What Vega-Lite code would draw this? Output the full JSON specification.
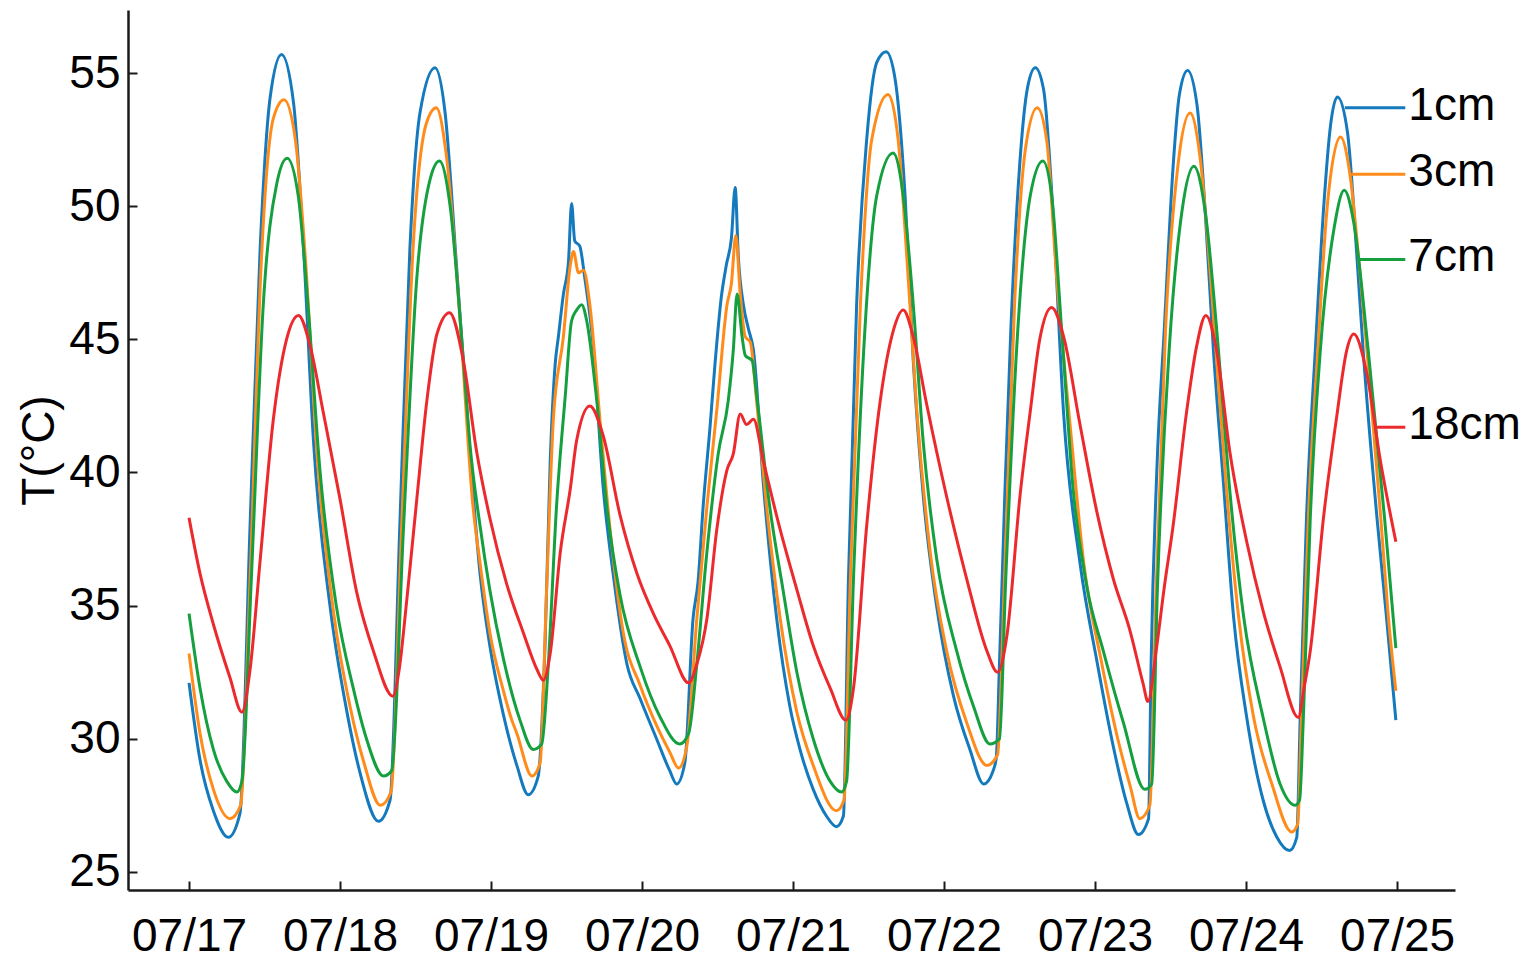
{
  "$schema": "https://vega.github.io/schema/vega-lite/v6.json",
  "width": 1327,
  "height": 880,
  "autosize": {"type": "none"},
  "padding": {"left": 128, "top": 10, "right": 73, "bottom": 74},
  "background": "white",
  "datasets": {
    "temps": [
      {"t":"2013-07-17T00:00","d":"1cm","T":32.1},{"t":"2013-07-17T01:45","d":"1cm","T":29.2},{"t":"2013-07-17T03:52","d":"1cm","T":27.3},{"t":"2013-07-17T06:15","d":"1cm","T":26.3},{"t":"2013-07-17T08:06","d":"1cm","T":27.2},{"t":"2013-07-17T09:42","d":"1cm","T":38.0},{"t":"2013-07-17T11:18","d":"1cm","T":48.4},{"t":"2013-07-17T12:54","d":"1cm","T":54.1},{"t":"2013-07-17T14:42","d":"1cm","T":55.7},{"t":"2013-07-17T16:36","d":"1cm","T":53.9},{"t":"2013-07-17T18:12","d":"1cm","T":48.4},{"t":"2013-07-17T19:48","d":"1cm","T":41.1},{"t":"2013-07-17T22:24","d":"1cm","T":35.0},
      {"t":"2013-07-18T01:06","d":"1cm","T":31.0},{"t":"2013-07-18T03:12","d":"1cm","T":28.7},{"t":"2013-07-18T06:06","d":"1cm","T":26.9},{"t":"2013-07-18T07:57","d":"1cm","T":27.7},{"t":"2013-07-18T09:30","d":"1cm","T":38.0},{"t":"2013-07-18T11:06","d":"1cm","T":48.4},{"t":"2013-07-18T12:42","d":"1cm","T":53.5},{"t":"2013-07-18T15:06","d":"1cm","T":55.2},{"t":"2013-07-18T16:42","d":"1cm","T":53.5},{"t":"2013-07-18T18:30","d":"1cm","T":47.8},{"t":"2013-07-18T20:42","d":"1cm","T":40.6},{"t":"2013-07-18T22:15","d":"1cm","T":36.2},{"t":"2013-07-18T23:48","d":"1cm","T":33.5},
      {"t":"2013-07-19T01:58","d":"1cm","T":30.9},{"t":"2013-07-19T04:06","d":"1cm","T":29.0},{"t":"2013-07-19T05:54","d":"1cm","T":27.9},{"t":"2013-07-19T07:30","d":"1cm","T":28.6},{"t":"2013-07-19T08:36","d":"1cm","T":33.7},{"t":"2013-07-19T09:24","d":"1cm","T":40.4},{"t":"2013-07-19T10:12","d":"1cm","T":44.1},{"t":"2013-07-19T10:42","d":"1cm","T":45.1},{"t":"2013-07-19T11:30","d":"1cm","T":46.7},{"t":"2013-07-19T12:18","d":"1cm","T":47.9},{"t":"2013-07-19T12:48","d":"1cm","T":50.1},{"t":"2013-07-19T13:18","d":"1cm","T":48.7},{"t":"2013-07-19T14:06","d":"1cm","T":48.5},{"t":"2013-07-19T14:54","d":"1cm","T":47.3},{"t":"2013-07-19T16:18","d":"1cm","T":44.6},{"t":"2013-07-19T17:48","d":"1cm","T":39.5},{"t":"2013-07-19T19:24","d":"1cm","T":36.2},{"t":"2013-07-19T21:36","d":"1cm","T":32.8},{"t":"2013-07-19T23:42","d":"1cm","T":31.5},
      {"t":"2013-07-20T02:18","d":"1cm","T":30.0},{"t":"2013-07-20T04:24","d":"1cm","T":28.8},{"t":"2013-07-20T05:30","d":"1cm","T":28.3},{"t":"2013-07-20T06:48","d":"1cm","T":29.1},{"t":"2013-07-20T08:06","d":"1cm","T":34.5},{"t":"2013-07-20T08:54","d":"1cm","T":35.9},{"t":"2013-07-20T09:42","d":"1cm","T":38.7},{"t":"2013-07-20T10:48","d":"1cm","T":41.7},{"t":"2013-07-20T11:36","d":"1cm","T":44.1},{"t":"2013-07-20T12:36","d":"1cm","T":46.6},{"t":"2013-07-20T13:24","d":"1cm","T":47.8},{"t":"2013-07-20T14:12","d":"1cm","T":48.8},{"t":"2013-07-20T14:48","d":"1cm","T":50.7},{"t":"2013-07-20T15:18","d":"1cm","T":48.1},{"t":"2013-07-20T16:06","d":"1cm","T":46.3},{"t":"2013-07-20T16:54","d":"1cm","T":45.4},{"t":"2013-07-20T17:42","d":"1cm","T":44.6},{"t":"2013-07-20T19:18","d":"1cm","T":39.5},{"t":"2013-07-20T21:24","d":"1cm","T":34.5},{"t":"2013-07-20T23:30","d":"1cm","T":31.2},
      {"t":"2013-07-21T01:06","d":"1cm","T":29.6},{"t":"2013-07-21T03:12","d":"1cm","T":28.1},{"t":"2013-07-21T05:18","d":"1cm","T":27.1},{"t":"2013-07-21T06:54","d":"1cm","T":26.7},{"t":"2013-07-21T08:00","d":"1cm","T":27.1},{"t":"2013-07-21T08:48","d":"1cm","T":36.0},{"t":"2013-07-21T10:06","d":"1cm","T":46.3},{"t":"2013-07-21T11:42","d":"1cm","T":52.5},{"t":"2013-07-21T13:18","d":"1cm","T":55.4},{"t":"2013-07-21T14:48","d":"1cm","T":55.8},{"t":"2013-07-21T16:12","d":"1cm","T":54.8},{"t":"2013-07-21T17:48","d":"1cm","T":50.4},{"t":"2013-07-21T19:06","d":"1cm","T":44.2},{"t":"2013-07-21T20:42","d":"1cm","T":39.1},{"t":"2013-07-21T22:48","d":"1cm","T":35.0},
      {"t":"2013-07-22T01:30","d":"1cm","T":31.6},{"t":"2013-07-22T04:06","d":"1cm","T":29.6},{"t":"2013-07-22T06:18","d":"1cm","T":28.3},{"t":"2013-07-22T07:48","d":"1cm","T":28.8},{"t":"2013-07-22T08:18","d":"1cm","T":29.3},{"t":"2013-07-22T08:48","d":"1cm","T":32.8},{"t":"2013-07-22T09:42","d":"1cm","T":39.5},{"t":"2013-07-22T10:36","d":"1cm","T":45.3},{"t":"2013-07-22T12:00","d":"1cm","T":51.5},{"t":"2013-07-22T13:18","d":"1cm","T":54.5},{"t":"2013-07-22T14:30","d":"1cm","T":55.2},{"t":"2013-07-22T15:48","d":"1cm","T":54.4},{"t":"2013-07-22T17:24","d":"1cm","T":49.4},{"t":"2013-07-22T19:00","d":"1cm","T":42.2},{"t":"2013-07-22T21:36","d":"1cm","T":36.6},
      {"t":"2013-07-23T00:18","d":"1cm","T":32.9},{"t":"2013-07-23T02:54","d":"1cm","T":29.7},{"t":"2013-07-23T05:00","d":"1cm","T":27.6},{"t":"2013-07-23T06:54","d":"1cm","T":26.4},{"t":"2013-07-23T08:30","d":"1cm","T":27.0},{"t":"2013-07-23T08:54","d":"1cm","T":32.8},{"t":"2013-07-23T09:48","d":"1cm","T":40.0},{"t":"2013-07-23T11:00","d":"1cm","T":45.4},{"t":"2013-07-23T12:24","d":"1cm","T":51.5},{"t":"2013-07-23T13:24","d":"1cm","T":54.2},{"t":"2013-07-23T14:42","d":"1cm","T":55.1},{"t":"2013-07-23T16:12","d":"1cm","T":53.8},{"t":"2013-07-23T17:30","d":"1cm","T":49.8},{"t":"2013-07-23T18:48","d":"1cm","T":44.6},{"t":"2013-07-23T20:24","d":"1cm","T":39.6},{"t":"2013-07-23T22:00","d":"1cm","T":34.6},
      {"t":"2013-07-24T00:06","d":"1cm","T":30.8},{"t":"2013-07-24T02:42","d":"1cm","T":27.7},{"t":"2013-07-24T04:54","d":"1cm","T":26.3},{"t":"2013-07-24T06:54","d":"1cm","T":25.8},{"t":"2013-07-24T08:03","d":"1cm","T":26.3},{"t":"2013-07-24T08:36","d":"1cm","T":30.8},{"t":"2013-07-24T09:36","d":"1cm","T":38.3},{"t":"2013-07-24T11:00","d":"1cm","T":44.6},{"t":"2013-07-24T12:24","d":"1cm","T":50.2},{"t":"2013-07-24T13:24","d":"1cm","T":53.0},{"t":"2013-07-24T14:30","d":"1cm","T":54.1},{"t":"2013-07-24T16:06","d":"1cm","T":52.8},{"t":"2013-07-24T17:42","d":"1cm","T":47.8},{"t":"2013-07-24T18:36","d":"1cm","T":44.6},{"t":"2013-07-24T20:48","d":"1cm","T":38.3},{"t":"2013-07-24T22:18","d":"1cm","T":34.6},{"t":"2013-07-24T23:48","d":"1cm","T":30.7},

      {"t":"2013-07-17T00:00","d":"3cm","T":33.2},{"t":"2013-07-17T01:45","d":"3cm","T":30.2},{"t":"2013-07-17T03:52","d":"3cm","T":28.1},{"t":"2013-07-17T06:30","d":"3cm","T":27.0},{"t":"2013-07-17T08:12","d":"3cm","T":27.5},{"t":"2013-07-17T09:42","d":"3cm","T":36.0},{"t":"2013-07-17T11:30","d":"3cm","T":48.0},{"t":"2013-07-17T13:24","d":"3cm","T":53.3},{"t":"2013-07-17T15:06","d":"3cm","T":54.0},{"t":"2013-07-17T16:54","d":"3cm","T":52.5},{"t":"2013-07-17T18:30","d":"3cm","T":48.0},{"t":"2013-07-17T20:24","d":"3cm","T":40.5},{"t":"2013-07-17T23:00","d":"3cm","T":34.7},
      {"t":"2013-07-18T01:36","d":"3cm","T":31.2},{"t":"2013-07-18T03:48","d":"3cm","T":29.1},{"t":"2013-07-18T06:24","d":"3cm","T":27.5},{"t":"2013-07-18T08:06","d":"3cm","T":28.0},{"t":"2013-07-18T09:48","d":"3cm","T":38.0},{"t":"2013-07-18T11:36","d":"3cm","T":48.4},{"t":"2013-07-18T13:42","d":"3cm","T":53.1},{"t":"2013-07-18T15:18","d":"3cm","T":53.7},{"t":"2013-07-18T16:54","d":"3cm","T":51.9},{"t":"2013-07-18T19:00","d":"3cm","T":46.0},{"t":"2013-07-18T21:06","d":"3cm","T":38.8},{"t":"2013-07-18T22:15","d":"3cm","T":36.6},{"t":"2013-07-18T23:48","d":"3cm","T":34.0},
      {"t":"2013-07-19T01:58","d":"3cm","T":31.8},{"t":"2013-07-19T03:18","d":"3cm","T":30.7},{"t":"2013-07-19T04:06","d":"3cm","T":30.2},{"t":"2013-07-19T06:30","d":"3cm","T":28.6},{"t":"2013-07-19T07:48","d":"3cm","T":29.1},{"t":"2013-07-19T08:48","d":"3cm","T":35.4},{"t":"2013-07-19T09:54","d":"3cm","T":42.0},{"t":"2013-07-19T11:30","d":"3cm","T":45.1},{"t":"2013-07-19T12:36","d":"3cm","T":47.8},{"t":"2013-07-19T13:06","d":"3cm","T":48.3},{"t":"2013-07-19T13:54","d":"3cm","T":47.5},{"t":"2013-07-19T14:42","d":"3cm","T":47.6},{"t":"2013-07-19T15:42","d":"3cm","T":46.3},{"t":"2013-07-19T17:18","d":"3cm","T":42.0},{"t":"2013-07-19T18:54","d":"3cm","T":37.9},{"t":"2013-07-19T21:00","d":"3cm","T":34.0},{"t":"2013-07-19T23:42","d":"3cm","T":32.0},
      {"t":"2013-07-20T02:18","d":"3cm","T":30.5},{"t":"2013-07-20T04:24","d":"3cm","T":29.5},{"t":"2013-07-20T05:48","d":"3cm","T":28.9},{"t":"2013-07-20T07:06","d":"3cm","T":29.7},{"t":"2013-07-20T08:42","d":"3cm","T":34.5},{"t":"2013-07-20T10:18","d":"3cm","T":38.7},{"t":"2013-07-20T11:54","d":"3cm","T":42.4},{"t":"2013-07-20T13:30","d":"3cm","T":46.3},{"t":"2013-07-20T14:12","d":"3cm","T":47.1},{"t":"2013-07-20T14:54","d":"3cm","T":48.9},{"t":"2013-07-20T15:36","d":"3cm","T":46.7},{"t":"2013-07-20T16:24","d":"3cm","T":45.1},{"t":"2013-07-20T17:12","d":"3cm","T":44.9},{"t":"2013-07-20T18:12","d":"3cm","T":42.7},{"t":"2013-07-20T19:48","d":"3cm","T":38.7},{"t":"2013-07-20T21:54","d":"3cm","T":34.6},
      {"t":"2013-07-21T00:36","d":"3cm","T":31.0},{"t":"2013-07-21T03:12","d":"3cm","T":29.0},{"t":"2013-07-21T06:54","d":"3cm","T":27.3},{"t":"2013-07-21T08:06","d":"3cm","T":27.7},{"t":"2013-07-21T09:06","d":"3cm","T":36.0},{"t":"2013-07-21T10:42","d":"3cm","T":46.3},{"t":"2013-07-21T12:30","d":"3cm","T":52.5},{"t":"2013-07-21T15:06","d":"3cm","T":54.2},{"t":"2013-07-21T16:42","d":"3cm","T":52.5},{"t":"2013-07-21T18:18","d":"3cm","T":47.3},{"t":"2013-07-21T19:42","d":"3cm","T":42.2},{"t":"2013-07-21T21:48","d":"3cm","T":37.0},
      {"t":"2013-07-22T00:24","d":"3cm","T":33.3},{"t":"2013-07-22T03:36","d":"3cm","T":30.6},{"t":"2013-07-22T06:48","d":"3cm","T":29.0},{"t":"2013-07-22T08:30","d":"3cm","T":29.4},{"t":"2013-07-22T09:36","d":"3cm","T":36.0},{"t":"2013-07-22T11:12","d":"3cm","T":46.3},{"t":"2013-07-22T12:54","d":"3cm","T":52.1},{"t":"2013-07-22T14:48","d":"3cm","T":53.7},{"t":"2013-07-22T16:18","d":"3cm","T":52.5},{"t":"2013-07-22T17:54","d":"3cm","T":47.3},{"t":"2013-07-22T20:06","d":"3cm","T":41.6},{"t":"2013-07-22T22:12","d":"3cm","T":36.6},
      {"t":"2013-07-23T01:00","d":"3cm","T":32.9},{"t":"2013-07-23T03:36","d":"3cm","T":30.0},{"t":"2013-07-23T05:36","d":"3cm","T":28.2},{"t":"2013-07-23T07:06","d":"3cm","T":27.0},{"t":"2013-07-23T08:42","d":"3cm","T":27.5},{"t":"2013-07-23T09:42","d":"3cm","T":35.6},{"t":"2013-07-23T11:12","d":"3cm","T":45.4},{"t":"2013-07-23T13:12","d":"3cm","T":51.6},{"t":"2013-07-23T15:06","d":"3cm","T":53.5},{"t":"2013-07-23T16:42","d":"3cm","T":51.8},{"t":"2013-07-23T18:18","d":"3cm","T":47.5},{"t":"2013-07-23T19:12","d":"3cm","T":44.6},{"t":"2013-07-23T20:48","d":"3cm","T":39.6},{"t":"2013-07-23T22:48","d":"3cm","T":34.6},
      {"t":"2013-07-24T01:12","d":"3cm","T":30.8},{"t":"2013-07-24T04:06","d":"3cm","T":28.3},{"t":"2013-07-24T07:15","d":"3cm","T":26.5},{"t":"2013-07-24T08:12","d":"3cm","T":26.8},{"t":"2013-07-24T08:48","d":"3cm","T":30.8},{"t":"2013-07-24T09:54","d":"3cm","T":38.3},{"t":"2013-07-24T11:24","d":"3cm","T":44.6},{"t":"2013-07-24T12:54","d":"3cm","T":50.0},{"t":"2013-07-24T15:00","d":"3cm","T":52.6},{"t":"2013-07-24T16:30","d":"3cm","T":51.2},{"t":"2013-07-24T18:06","d":"3cm","T":47.5},{"t":"2013-07-24T19:12","d":"3cm","T":44.6},{"t":"2013-07-24T21:24","d":"3cm","T":38.3},{"t":"2013-07-24T22:36","d":"3cm","T":34.6},{"t":"2013-07-24T23:48","d":"3cm","T":31.8},

      {"t":"2013-07-17T00:00","d":"7cm","T":34.7},{"t":"2013-07-17T01:45","d":"7cm","T":31.9},{"t":"2013-07-17T03:52","d":"7cm","T":29.6},{"t":"2013-07-17T06:00","d":"7cm","T":28.4},{"t":"2013-07-17T07:36","d":"7cm","T":28.0},{"t":"2013-07-17T08:24","d":"7cm","T":28.4},{"t":"2013-07-17T09:54","d":"7cm","T":36.0},{"t":"2013-07-17T11:48","d":"7cm","T":46.3},{"t":"2013-07-17T13:54","d":"7cm","T":50.8},{"t":"2013-07-17T15:36","d":"7cm","T":51.8},{"t":"2013-07-17T17:21","d":"7cm","T":50.4},{"t":"2013-07-17T18:54","d":"7cm","T":46.3},{"t":"2013-07-17T20:48","d":"7cm","T":40.1},{"t":"2013-07-17T23:24","d":"7cm","T":35.0},
      {"t":"2013-07-18T02:06","d":"7cm","T":31.9},{"t":"2013-07-18T04:12","d":"7cm","T":30.0},{"t":"2013-07-18T06:54","d":"7cm","T":28.6},{"t":"2013-07-18T08:12","d":"7cm","T":28.8},{"t":"2013-07-18T10:06","d":"7cm","T":38.0},{"t":"2013-07-18T12:12","d":"7cm","T":47.3},{"t":"2013-07-18T14:18","d":"7cm","T":51.0},{"t":"2013-07-18T15:48","d":"7cm","T":51.7},{"t":"2013-07-18T17:30","d":"7cm","T":50.0},{"t":"2013-07-18T19:36","d":"7cm","T":44.2},{"t":"2013-07-18T20:40","d":"7cm","T":41.0},{"t":"2013-07-18T22:15","d":"7cm","T":38.0},{"t":"2013-07-18T23:48","d":"7cm","T":35.6},
      {"t":"2013-07-19T01:58","d":"7cm","T":33.0},{"t":"2013-07-19T04:36","d":"7cm","T":30.7},{"t":"2013-07-19T06:42","d":"7cm","T":29.6},{"t":"2013-07-19T08:03","d":"7cm","T":29.8},{"t":"2013-07-19T09:06","d":"7cm","T":32.8},{"t":"2013-07-19T10:24","d":"7cm","T":38.7},{"t":"2013-07-19T11:48","d":"7cm","T":42.9},{"t":"2013-07-19T12:48","d":"7cm","T":45.7},{"t":"2013-07-19T13:36","d":"7cm","T":46.1},{"t":"2013-07-19T14:24","d":"7cm","T":46.3},{"t":"2013-07-19T15:12","d":"7cm","T":45.7},{"t":"2013-07-19T16:48","d":"7cm","T":42.7},{"t":"2013-07-19T18:24","d":"7cm","T":38.7},{"t":"2013-07-19T20:30","d":"7cm","T":35.4},{"t":"2013-07-19T23:42","d":"7cm","T":32.7},
      {"t":"2013-07-20T02:54","d":"7cm","T":30.8},{"t":"2013-07-20T06:00","d":"7cm","T":29.8},{"t":"2013-07-20T07:24","d":"7cm","T":30.2},{"t":"2013-07-20T08:42","d":"7cm","T":32.8},{"t":"2013-07-20T10:18","d":"7cm","T":37.0},{"t":"2013-07-20T12:06","d":"7cm","T":40.7},{"t":"2013-07-20T13:42","d":"7cm","T":42.7},{"t":"2013-07-20T14:30","d":"7cm","T":44.6},{"t":"2013-07-20T15:06","d":"7cm","T":46.7},{"t":"2013-07-20T15:54","d":"7cm","T":45.1},{"t":"2013-07-20T16:24","d":"7cm","T":44.4},{"t":"2013-07-20T17:30","d":"7cm","T":44.2},{"t":"2013-07-20T18:12","d":"7cm","T":42.9},{"t":"2013-07-20T20:18","d":"7cm","T":38.7},{"t":"2013-07-20T22:24","d":"7cm","T":35.6},
      {"t":"2013-07-21T00:36","d":"7cm","T":32.5},{"t":"2013-07-21T03:12","d":"7cm","T":30.0},{"t":"2013-07-21T05:54","d":"7cm","T":28.4},{"t":"2013-07-21T07:42","d":"7cm","T":28.0},{"t":"2013-07-21T08:30","d":"7cm","T":28.4},{"t":"2013-07-21T09:36","d":"7cm","T":36.0},{"t":"2013-07-21T11:24","d":"7cm","T":45.3},{"t":"2013-07-21T13:18","d":"7cm","T":50.4},{"t":"2013-07-21T15:54","d":"7cm","T":52.0},{"t":"2013-07-21T17:30","d":"7cm","T":50.4},{"t":"2013-07-21T19:06","d":"7cm","T":46.3},{"t":"2013-07-21T20:42","d":"7cm","T":41.1},{"t":"2013-07-21T22:48","d":"7cm","T":36.8},
      {"t":"2013-07-22T02:00","d":"7cm","T":33.3},{"t":"2013-07-22T04:42","d":"7cm","T":31.2},{"t":"2013-07-22T07:18","d":"7cm","T":29.8},{"t":"2013-07-22T08:48","d":"7cm","T":30.0},{"t":"2013-07-22T09:48","d":"7cm","T":36.0},{"t":"2013-07-22T11:42","d":"7cm","T":45.3},{"t":"2013-07-22T13:42","d":"7cm","T":50.4},{"t":"2013-07-22T15:42","d":"7cm","T":51.7},{"t":"2013-07-22T17:06","d":"7cm","T":50.4},{"t":"2013-07-22T18:42","d":"7cm","T":45.3},{"t":"2013-07-22T20:30","d":"7cm","T":39.4},{"t":"2013-07-22T22:42","d":"7cm","T":35.7},
      {"t":"2013-07-23T01:18","d":"7cm","T":33.3},{"t":"2013-07-23T04:30","d":"7cm","T":30.6},{"t":"2013-07-23T07:54","d":"7cm","T":28.1},{"t":"2013-07-23T09:00","d":"7cm","T":28.3},{"t":"2013-07-23T09:54","d":"7cm","T":35.6},{"t":"2013-07-23T11:48","d":"7cm","T":44.7},{"t":"2013-07-23T13:48","d":"7cm","T":49.8},{"t":"2013-07-23T15:42","d":"7cm","T":51.5},{"t":"2013-07-23T17:30","d":"7cm","T":49.8},{"t":"2013-07-23T19:36","d":"7cm","T":44.6},{"t":"2013-07-23T21:18","d":"7cm","T":39.6},{"t":"2013-07-23T23:36","d":"7cm","T":34.6},
      {"t":"2013-07-24T02:42","d":"7cm","T":30.8},{"t":"2013-07-24T05:24","d":"7cm","T":28.3},{"t":"2013-07-24T07:48","d":"7cm","T":27.5},{"t":"2013-07-24T08:30","d":"7cm","T":27.7},{"t":"2013-07-24T09:06","d":"7cm","T":30.8},{"t":"2013-07-24T10:12","d":"7cm","T":38.3},{"t":"2013-07-24T11:48","d":"7cm","T":44.6},{"t":"2013-07-24T14:00","d":"7cm","T":49.2},{"t":"2013-07-24T15:36","d":"7cm","T":50.6},{"t":"2013-07-24T17:06","d":"7cm","T":49.4},{"t":"2013-07-24T19:24","d":"7cm","T":44.6},{"t":"2013-07-24T22:00","d":"7cm","T":38.3},{"t":"2013-07-24T23:48","d":"7cm","T":33.4},

      {"t":"2013-07-17T00:00","d":"18cm","T":38.3},{"t":"2013-07-17T01:45","d":"18cm","T":36.2},{"t":"2013-07-17T03:52","d":"18cm","T":34.3},{"t":"2013-07-17T06:30","d":"18cm","T":32.3},{"t":"2013-07-17T08:24","d":"18cm","T":31.0},{"t":"2013-07-17T09:42","d":"18cm","T":32.6},{"t":"2013-07-17T11:18","d":"18cm","T":36.7},{"t":"2013-07-17T13:24","d":"18cm","T":42.0},{"t":"2013-07-17T15:30","d":"18cm","T":45.0},{"t":"2013-07-17T17:24","d":"18cm","T":45.9},{"t":"2013-07-17T19:12","d":"18cm","T":44.8},{"t":"2013-07-17T21:18","d":"18cm","T":42.3},{"t":"2013-07-18T00:00","d":"18cm","T":39.0},
      {"t":"2013-07-18T02:39","d":"18cm","T":35.5},{"t":"2013-07-18T05:18","d":"18cm","T":33.3},{"t":"2013-07-18T08:24","d":"18cm","T":31.6},{"t":"2013-07-18T09:24","d":"18cm","T":32.6},{"t":"2013-07-18T10:36","d":"18cm","T":35.2},{"t":"2013-07-18T12:12","d":"18cm","T":39.0},{"t":"2013-07-18T13:48","d":"18cm","T":42.7},{"t":"2013-07-18T15:24","d":"18cm","T":45.2},{"t":"2013-07-18T17:24","d":"18cm","T":46.0},{"t":"2013-07-18T19:36","d":"18cm","T":44.2},{"t":"2013-07-18T21:42","d":"18cm","T":40.8},{"t":"2013-07-18T23:48","d":"18cm","T":38.3},
      {"t":"2013-07-19T02:30","d":"18cm","T":35.8},{"t":"2013-07-19T05:06","d":"18cm","T":34.0},{"t":"2013-07-19T07:18","d":"18cm","T":32.6},{"t":"2013-07-19T08:18","d":"18cm","T":32.2},{"t":"2013-07-19T09:24","d":"18cm","T":33.2},{"t":"2013-07-19T11:00","d":"18cm","T":37.0},{"t":"2013-07-19T12:36","d":"18cm","T":39.4},{"t":"2013-07-19T13:36","d":"18cm","T":41.2},{"t":"2013-07-19T15:42","d":"18cm","T":42.5},{"t":"2013-07-19T17:48","d":"18cm","T":41.4},{"t":"2013-07-19T20:30","d":"18cm","T":38.4},{"t":"2013-07-19T23:12","d":"18cm","T":36.2},
      {"t":"2013-07-20T01:48","d":"18cm","T":34.7},{"t":"2013-07-20T04:24","d":"18cm","T":33.5},{"t":"2013-07-20T07:24","d":"18cm","T":32.1},{"t":"2013-07-20T08:42","d":"18cm","T":32.8},{"t":"2013-07-20T10:18","d":"18cm","T":34.5},{"t":"2013-07-20T11:54","d":"18cm","T":37.9},{"t":"2013-07-20T13:30","d":"18cm","T":40.1},{"t":"2013-07-20T14:30","d":"18cm","T":40.7},{"t":"2013-07-20T15:36","d":"18cm","T":42.2},{"t":"2013-07-20T16:36","d":"18cm","T":41.8},{"t":"2013-07-20T17:42","d":"18cm","T":42.0},{"t":"2013-07-20T19:18","d":"18cm","T":40.4},{"t":"2013-07-20T21:54","d":"18cm","T":37.9},
      {"t":"2013-07-21T00:36","d":"18cm","T":35.6},{"t":"2013-07-21T03:12","d":"18cm","T":33.5},{"t":"2013-07-21T05:54","d":"18cm","T":31.9},{"t":"2013-07-21T08:24","d":"18cm","T":30.7},{"t":"2013-07-21T09:36","d":"18cm","T":31.9},{"t":"2013-07-21T11:42","d":"18cm","T":38.0},{"t":"2013-07-21T13:48","d":"18cm","T":42.6},{"t":"2013-07-21T15:54","d":"18cm","T":45.3},{"t":"2013-07-21T17:30","d":"18cm","T":46.1},{"t":"2013-07-21T19:06","d":"18cm","T":45.1},{"t":"2013-07-21T21:12","d":"18cm","T":42.6},
      {"t":"2013-07-22T00:24","d":"18cm","T":39.1},{"t":"2013-07-22T03:36","d":"18cm","T":36.0},{"t":"2013-07-22T06:48","d":"18cm","T":33.3},{"t":"2013-07-22T08:30","d":"18cm","T":32.5},{"t":"2013-07-22T10:00","d":"18cm","T":33.9},{"t":"2013-07-22T12:06","d":"18cm","T":39.2},{"t":"2013-07-22T13:42","d":"18cm","T":42.3},{"t":"2013-07-22T15:12","d":"18cm","T":45.0},{"t":"2013-07-22T17:06","d":"18cm","T":46.2},{"t":"2013-07-22T19:00","d":"18cm","T":45.1},{"t":"2013-07-22T21:36","d":"18cm","T":41.8},
      {"t":"2013-07-23T00:18","d":"18cm","T":38.5},{"t":"2013-07-23T02:54","d":"18cm","T":36.0},{"t":"2013-07-23T05:30","d":"18cm","T":34.1},{"t":"2013-07-23T07:36","d":"18cm","T":32.1},{"t":"2013-07-23T08:24","d":"18cm","T":31.4},{"t":"2013-07-23T09:42","d":"18cm","T":33.3},{"t":"2013-07-23T11:00","d":"18cm","T":35.7},{"t":"2013-07-23T12:24","d":"18cm","T":38.0},{"t":"2013-07-23T14:30","d":"18cm","T":42.2},{"t":"2013-07-23T16:06","d":"18cm","T":44.7},{"t":"2013-07-23T17:36","d":"18cm","T":45.9},{"t":"2013-07-23T19:18","d":"18cm","T":44.6},{"t":"2013-07-23T21:24","d":"18cm","T":40.8},
      {"t":"2013-07-24T00:06","d":"18cm","T":37.4},{"t":"2013-07-24T02:42","d":"18cm","T":34.8},{"t":"2013-07-24T05:24","d":"18cm","T":32.7},{"t":"2013-07-24T08:18","d":"18cm","T":30.8},{"t":"2013-07-24T09:12","d":"18cm","T":31.9},{"t":"2013-07-24T10:12","d":"18cm","T":33.3},{"t":"2013-07-24T12:18","d":"18cm","T":38.3},{"t":"2013-07-24T14:24","d":"18cm","T":42.1},{"t":"2013-07-24T16:00","d":"18cm","T":44.6},{"t":"2013-07-24T17:06","d":"18cm","T":45.2},{"t":"2013-07-24T19:12","d":"18cm","T":43.7},{"t":"2013-07-24T21:18","d":"18cm","T":40.5},{"t":"2013-07-24T23:48","d":"18cm","T":37.4}
    ],
    "labels": [
      {"d": "1cm", "t0": "2013-07-24T15:42", "t1": "2013-07-25T01:18", "T": 53.7},
      {"d": "3cm", "t0": "2013-07-24T16:42", "t1": "2013-07-25T01:18", "T": 51.2},
      {"d": "7cm", "t0": "2013-07-24T18:00", "t1": "2013-07-25T01:18", "T": 48.0},
      {"d": "18cm", "t0": "2013-07-24T20:48", "t1": "2013-07-25T01:18", "T": 41.7}
    ]
  },
  "encoding": {
    "y": {
      "field": "T",
      "type": "quantitative",
      "scale": {"domain": [24.32, 57.37], "nice": false, "zero": false},
      "axis": {"title": "T(°C)", "values": [25, 30, 35, 40, 45, 50, 55], "titlePadding": 5}
    }
  },
  "layer": [
    {
      "data": {"name": "temps"},
      "mark": {"type": "line", "strokeWidth": 3, "interpolate": "monotone"},
      "encoding": {
        "x": {
          "field": "t",
          "type": "temporal",
          "scale": {
            "domain": [
              {"year": 2013, "month": 7, "date": 16, "hours": 14, "minutes": 18},
              {"year": 2013, "month": 7, "date": 25, "hours": 9, "minutes": 12}
            ],
            "nice": false
          },
          "axis": {"title": null, "format": "%m/%d", "tickCount": {"interval": "day", "step": 1}}
        },
        "color": {
          "field": "d",
          "type": "nominal",
          "scale": {"domain": ["1cm", "3cm", "7cm", "18cm"], "range": ["#1479BD", "#FF8C1A", "#15A040", "#EC2A2E"]},
          "legend": null
        },
        "detail": {"field": "d"}
      }
    },
    {
      "data": {"name": "labels"},
      "mark": {"type": "rule", "strokeWidth": 3},
      "encoding": {
        "x": {"field": "t0", "type": "temporal"},
        "x2": {"field": "t1"},
        "color": {"field": "d", "type": "nominal", "legend": null}
      }
    },
    {
      "data": {"name": "labels"},
      "mark": {"type": "text", "align": "left", "baseline": "middle", "dx": 3, "dy": -2, "fontSize": 46, "font": "Liberation Sans", "color": "black"},
      "encoding": {
        "x": {"field": "t1", "type": "temporal"},
        "text": {"field": "d"}
      }
    }
  ],
  "config": {
    "view": {"stroke": null},
    "font": "Liberation Sans",
    "axis": {
      "grid": false,
      "domainColor": "#1a1a1a",
      "domainWidth": 2.5,
      "tickColor": "#1a1a1a",
      "tickWidth": 2,
      "tickSize": -9,
      "labelFont": "Liberation Sans",
      "labelFontSize": 46,
      "labelColor": "black",
      "titleFont": "Liberation Sans",
      "titleFontSize": 46,
      "titleFontWeight": "normal",
      "titleColor": "black"
    },
    "axisX": {"labelPadding": 33, "labelFlush": false, "labelOverlap": false},
    "axisY": {"labelPadding": 17}
  }
}
